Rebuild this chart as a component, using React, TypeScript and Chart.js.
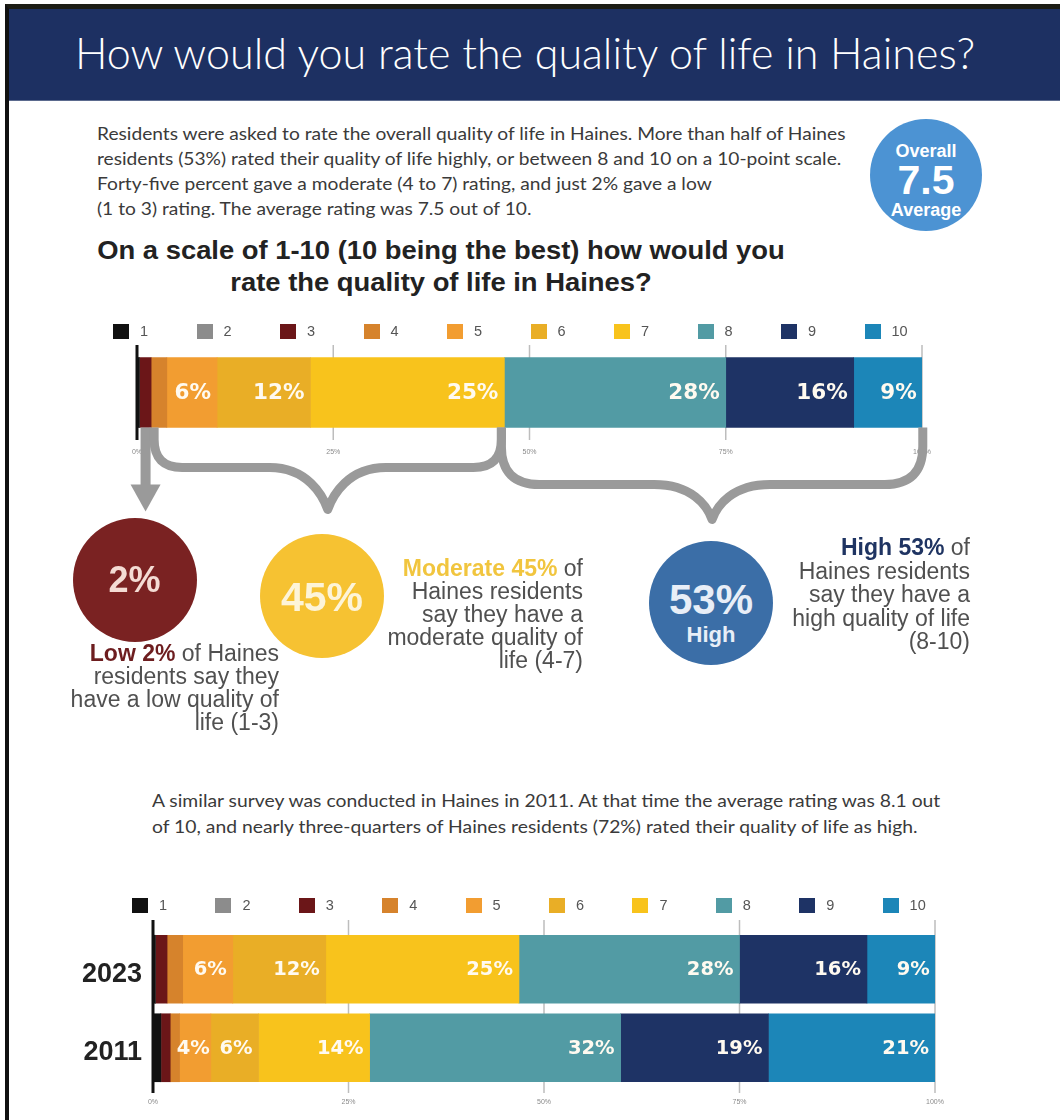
import React, { useEffect, useLayoutEffect, useRef } from 'react';
import { Chart, registerables } from 'chart.js';

Chart.register(...registerables);

// ---------- data ----------
const CATEGORIES = ['1', '2', '3', '4', '5', '6', '7', '8', '9', '10'];
const YEARS = ['2023', '2011'];
const VALUES_2023 = [0.3, 0, 1.5, 2, 6.4, 11.9, 24.7, 28.2, 16.3, 8.8];
const VALUES_2011 = [1, 0, 1.2, 1.2, 4, 6.1, 14.2, 32.1, 18.9, 21.3];
const X_TICKS = [0, 25, 50, 75, 100];
// rating groups as category index ranges [start, end)
const GROUP_LOW = [0, 3];
const GROUP_MODERATE = [3, 7];
const GROUP_HIGH = [7, 10];

// ---------- styles ----------
const COLORS = ['#111111', '#8c8c8c', '#6b1618', '#d6832c', '#f29d31', '#e9ae26', '#f8c31c', '#529ba4', '#1e3365', '#1c86b8'];
const BRACE_GRAY = '#9a9a9a';
const SANS = '"Liberation Sans", Arial, sans-serif';

const sum = (a: number[], from: number, to: number) => a.slice(from, to).reduce((s, v) => s + v, 0);

const gridPlugin = (extTop: number, extBottom: number) => ({
  id: 'extGrid',
  beforeDatasetsDraw(chart: any) {
    const { ctx, chartArea } = chart;
    const xs = chart.scales.x;
    ctx.save();
    X_TICKS.forEach((t) => {
      const px = xs.getPixelForValue(t);
      ctx.beginPath();
      ctx.strokeStyle = t === 0 ? '#111' : '#bdbdbd';
      ctx.lineWidth = t === 0 ? 3 : 1.5;
      ctx.moveTo(px, chartArea.top - extTop);
      ctx.lineTo(px, chartArea.bottom + extBottom);
      ctx.stroke();
    });
    ctx.restore();
  },
});

const labelPlugin = (fontPx: number) => ({
  id: 'barLabels',
  afterDatasetsDraw(chart: any) {
    const { ctx } = chart;
    ctx.save();
    ctx.font = `bold ${fontPx}px "DejaVu Sans", sans-serif`;
    ctx.fillStyle = '#fffaf0';
    ctx.textAlign = 'right';
    ctx.textBaseline = 'middle';
    chart.data.datasets.forEach((ds: any, di: number) => {
      const meta = chart.getDatasetMeta(di);
      meta.data.forEach((el: any, i: number) => {
        const v = ds.data[i] as number;
        if (v < 3) return;
        const inset = v < 5 ? 1 : 6;
        ctx.fillText(Math.round(v) + '%', el.x - inset, el.y + 1);
      });
    });
    ctx.restore();
  },
});

function drawBrace(ctx: CanvasRenderingContext2D, x1: number, x2: number, yTop: number, yMid: number, yTip: number, r: number) {
  const xc = (x1 + x2) / 2;
  const w = 58;
  ctx.beginPath();
  ctx.moveTo(x1, yTop);
  ctx.lineTo(x1, yMid - r);
  ctx.quadraticCurveTo(x1, yMid, x1 + r, yMid);
  ctx.lineTo(xc - w, yMid);
  ctx.bezierCurveTo(xc - w * 0.35, yMid, xc - 5, yTip - 14, xc, yTip);
  ctx.bezierCurveTo(xc + 5, yTip - 14, xc + w * 0.35, yMid, xc + w, yMid);
  ctx.lineTo(x2 - r, yMid);
  ctx.quadraticCurveTo(x2, yMid, x2, yMid - r);
  ctx.lineTo(x2, yTop);
  ctx.stroke();
}

const bracePlugin = {
  id: 'braces',
  afterDraw(chart: any) {
    const { ctx } = chart;
    const xs = chart.scales.x;
    const el = chart.getDatasetMeta(0).data[0];
    const yTop = el.y + el.height / 2;
    const px = (v: number) => xs.getPixelForValue(v);
    ctx.save();
    ctx.strokeStyle = BRACE_GRAY;
    ctx.fillStyle = BRACE_GRAY;
    ctx.lineWidth = 9;
    ctx.lineJoin = 'round';
    ctx.lineCap = 'butt';
    // arrow for the low group
    const ax = px(sum(VALUES_2023, GROUP_LOW[0], GROUP_LOW[1]) / 2) + 1.5;
    ctx.fillRect(ax - 5, yTop, 10, 58);
    ctx.beginPath();
    ctx.moveTo(ax - 15, yTop + 57);
    ctx.lineTo(ax + 15, yTop + 57);
    ctx.lineTo(ax, yTop + 84);
    ctx.closePath();
    ctx.fill();
    // moderate brace
    const m1 = px(sum(VALUES_2023, 0, GROUP_MODERATE[0])) + 3;
    const m2 = px(sum(VALUES_2023, 0, GROUP_MODERATE[1])) - 3;
    drawBrace(ctx, m1, m2, yTop, yTop + 40, yTop + 82, 28);
    // high brace
    const h1 = px(sum(VALUES_2023, 0, GROUP_HIGH[0])) - 3;
    const h2 = px(sum(VALUES_2023, 0, GROUP_HIGH[1]));
    drawBrace(ctx, h1, h2, yTop, yTop + 57, yTop + 92, 38);
    ctx.restore();
  },
};

function xScale(padding: number) {
  return {
    stacked: true,
    min: 0,
    max: 100,
    grid: { display: false, drawTicks: false },
    border: { display: false },
    afterBuildTicks: (ax: any) => {
      ax.ticks = X_TICKS.map((v) => ({ value: v }));
    },
    afterFit: (ax: any) => {
      ax.height = 20;
    },
    ticks: {
      callback: (v: any) => v + '%',
      font: { size: 7, family: SANS },
      color: '#8a8a8a',
      padding,
      maxRotation: 0,
      autoSkip: false,
    },
  };
}

function Fit({ width, style, children, origin = 'left top' }: { width: number; style: any; children: any; origin?: string }) {
  const ref = useRef<HTMLDivElement>(null);
  useLayoutEffect(() => {
    const el = ref.current;
    if (!el) return;
    el.style.transform = 'none';
    const w = el.offsetWidth;
    if (w > 0) el.style.transform = `scaleX(${width / w})`;
  }, [width]);
  return (
    <div ref={ref} style={{ position: 'absolute', whiteSpace: 'nowrap', transformOrigin: origin, ...style }}>
      {children}
    </div>
  );
}

function Legend({ left, top, step }: { left: number; top: number; step: number }) {
  return (
    <>
      {CATEGORIES.map((c, i) => (
        <div key={c} style={{ position: 'absolute', left: left + i * step, top, height: 15, display: 'flex', alignItems: 'center' }}>
          <span style={{ display: 'inline-block', width: 16, height: 15, background: COLORS[i] }} />
          <span style={{ marginLeft: 11, fontFamily: SANS, fontSize: 14.5, color: '#555', lineHeight: '15px' }}>{c}</span>
        </div>
      ))}
    </>
  );
}

function Circle({ cx, cy, r, bg, children }: any) {
  return (
    <div style={{ position: 'absolute', left: cx - r, top: cy - r, width: 2 * r, height: 2 * r, borderRadius: '50%', background: bg }}>
      {children}
    </div>
  );
}

export default function App() {
  const topRef = useRef<HTMLCanvasElement>(null);
  const botRef = useRef<HTMLCanvasElement>(null);
  const qRef = useRef<HTMLDivElement>(null);

  useLayoutEffect(() => {
    const el = qRef.current;
    if (!el) return;
    el.style.transform = 'none';
    const w = el.offsetWidth;
    if (w > 0) el.style.transform = `translateX(-50%) scaleX(${688 / w})`;
  }, []);

  useEffect(() => {
    document.body.style.margin = '0';
    const top = new Chart(topRef.current as HTMLCanvasElement, {
      type: 'bar',
      data: {
        labels: [YEARS[0]],
        datasets: CATEGORIES.map((c, i) => ({
          label: c,
          data: [VALUES_2023[i]],
          backgroundColor: COLORS[i],
          borderWidth: 0,
          barThickness: 70,
          stack: 'all',
        })),
      },
      options: {
        indexAxis: 'y',
        responsive: false,
        animation: false,
        devicePixelRatio: 1,
        layout: { padding: { left: 137, right: 138, top: 45, bottom: 80 } },
        plugins: { legend: { display: false }, tooltip: { enabled: false } },
        scales: {
          x: xScale(8) as any,
          y: { stacked: true, display: false },
        },
      },
      plugins: [gridPlugin(0, 0), labelPlugin(21.5), bracePlugin],
    } as any);

    const bottom = new Chart(botRef.current as HTMLCanvasElement, {
      type: 'bar',
      data: {
        labels: YEARS,
        datasets: CATEGORIES.map((c, i) => ({
          label: c,
          data: [VALUES_2023[i], VALUES_2011[i]],
          backgroundColor: COLORS[i],
          borderWidth: 0,
          barThickness: 68,
          stack: 'all',
        })),
      },
      options: {
        indexAxis: 'y',
        responsive: false,
        animation: false,
        devicePixelRatio: 1,
        layout: { padding: { left: 53, right: 125, top: 50, bottom: 13 } },
        plugins: { legend: { display: false }, tooltip: { enabled: false } },
        scales: {
          x: xScale(11) as any,
          y: {
            stacked: true,
            grid: { display: false, drawTicks: false },
            border: { display: false },
            afterFit: (ax: any) => {
              ax.width = 100;
            },
            ticks: {
              font: { size: 27, weight: 'bold', family: SANS },
              color: '#222',
              padding: 11,
              labelOffset: 5,
            },
          },
        },
      },
      plugins: [gridPlugin(10, 6), labelPlugin(19.5)],
    } as any);

    return () => {
      top.destroy();
      bottom.destroy();
    };
  }, []);

  const descStyle = (right: number, top: number, lh: number) => ({
    position: 'absolute' as const,
    right: 1060 - right,
    top,
    textAlign: 'right' as const,
    fontFamily: SANS,
    fontSize: 23,
    lineHeight: lh + 'px',
    color: '#505050',
    whiteSpace: 'nowrap' as const,
  });

  return (
    <div style={{ position: 'absolute', left: 0, top: 0, width: 1060, height: 1120, overflow: 'hidden', background: '#fff', fontFamily: SANS }}>
      {/* frame */}
      <div style={{ position: 'absolute', left: 5, top: 4, width: 1060, height: 1120, borderLeft: '4px solid #111', borderTop: '5px solid #1c1c14' }} />
      {/* header */}
      <div style={{ position: 'absolute', left: 9, top: 9, width: 1051, height: 91, background: '#1d3062', borderBottom: '1px solid #5b6a8e' }} />
      <Fit width={900} style={{ left: 75, top: 27, fontFamily: 'Lato, sans-serif', fontWeight: 300, fontSize: 44, lineHeight: '50px', color: '#fff' }}>
        How would you rate the quality of life in Haines?
      </Fit>

      {/* intro paragraph */}
      <Fit width={748} style={{ left: 97, top: 120.5, fontFamily: 'Lato, sans-serif', fontSize: 17, lineHeight: '25px', color: '#3a3a3a' }}>
        Residents were asked to rate the overall quality of life in Haines. More than half of Haines
        <br />
        residents (53%) rated their quality of life highly, or between 8 and 10 on a 10-point scale.
        <br />
        Forty-five percent gave a moderate (4 to 7) rating, and just 2% gave a low
        <br />
        (1 to 3) rating. The average rating was 7.5 out of 10.
      </Fit>

      {/* overall circle */}
      <Circle cx={926} cy={175} r={56} bg="#4c93d3">
        <div style={{ position: 'absolute', left: 0, width: 112, top: 22, textAlign: 'center', color: '#fff', fontWeight: 'bold', fontSize: 18, lineHeight: '20px' }}>Overall</div>
        <div style={{ position: 'absolute', left: 0, width: 112, top: 40, textAlign: 'center', color: '#fff', fontWeight: 'bold', fontSize: 41, lineHeight: '42px' }}>7.5</div>
        <div style={{ position: 'absolute', left: 0, width: 112, top: 81, textAlign: 'center', color: '#fff', fontWeight: 'bold', fontSize: 18, lineHeight: '20px' }}>Average</div>
      </Circle>

      {/* question */}
      <div
        ref={qRef}
        style={{ position: 'absolute', left: 441, top: 234, whiteSpace: 'nowrap', transformOrigin: 'center top', textAlign: 'center', fontFamily: SANS, fontWeight: 'bold', fontSize: 26.5, lineHeight: '32px', color: '#222' }}
      >
        On a scale of 1-10 (10 being the best) how would you
        <br />
        rate the quality of life in Haines?
      </div>

      {/* top chart */}
      <canvas ref={topRef} width={1060} height={240} style={{ position: 'absolute', left: 0, top: 300, width: 1060, height: 240 }} />
      <Legend left={113} top={324} step={83.5} />

      {/* group circles */}
      <Circle cx={134.5} cy={580} r={62} bg="#7a2222">
        <div style={{ position: 'absolute', left: 0, width: 124, top: 42, textAlign: 'center', color: '#f4dcd4', fontWeight: 'bold', fontSize: 36, lineHeight: '40px' }}>2%</div>
      </Circle>
      <Circle cx={322} cy={596} r={62} bg="#f6c232">
        <div style={{ position: 'absolute', left: 0, width: 124, top: 40, textAlign: 'center', color: '#fdf4d8', fontWeight: 'bold', fontSize: 41, lineHeight: '46px' }}>45%</div>
      </Circle>
      <Circle cx={711} cy={603} r={62} bg="#3b6ea7">
        <div style={{ position: 'absolute', left: 0, width: 124, top: 36, textAlign: 'center', color: '#e8eef7', fontWeight: 'bold', fontSize: 42, lineHeight: '46px' }}>53%</div>
        <div style={{ position: 'absolute', left: 0, width: 124, top: 82, textAlign: 'center', color: '#e8eef7', fontWeight: 'bold', fontSize: 22, lineHeight: '24px' }}>High</div>
      </Circle>

      <div style={descStyle(279, 641.5, 23)}>
        <span style={{ color: '#6d1d1f', fontWeight: 'bold' }}>Low 2%</span> of Haines
        <br />
        residents say they
        <br />
        have a low quality of
        <br />
        life (1-3)
      </div>
      <div style={descStyle(583, 556.5, 23)}>
        <span style={{ color: '#f1c53e', fontWeight: 'bold' }}>Moderate 45%</span> of
        <br />
        Haines residents
        <br />
        say they have a
        <br />
        moderate quality of
        <br />
        life (4-7)
      </div>
      <div style={descStyle(970, 536, 23.6)}>
        <span style={{ color: '#1f3462', fontWeight: 'bold' }}>High 53%</span> of
        <br />
        Haines residents
        <br />
        say they have a
        <br />
        high quality of life
        <br />
        (8-10)
      </div>

      {/* second paragraph */}
      <Fit width={788} style={{ left: 152, top: 788, fontFamily: 'Lato, sans-serif', fontSize: 17.5, lineHeight: '26px', color: '#3a3a3a' }}>
        A similar survey was conducted in Haines in 2011. At that time the average rating was 8.1 out
        <br />
        of 10, and nearly three-quarters of Haines residents (72%) rated their quality of life as high.
      </Fit>

      {/* bottom chart */}
      <canvas ref={botRef} width={1060} height={240} style={{ position: 'absolute', left: 0, top: 880, width: 1060, height: 240 }} />
      <Legend left={132} top={898} step={83.4} />
    </div>
  );
}
